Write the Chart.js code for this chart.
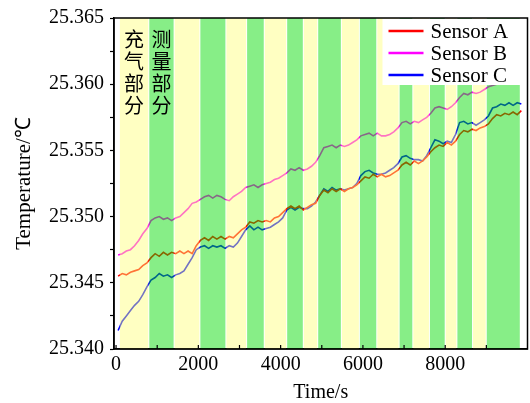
<!DOCTYPE html>
<html>
<head>
<meta charset="utf-8">
<script src="https://cdn.jsdelivr.net/npm/chart.js@4/dist/chart.umd.min.js"></script>
<style>
  html, body { margin: 0; padding: 0; background: #fff; }
  #wrap { width: 530px; height: 403px; }
</style>
</head>
<body>
<div id="wrap"><canvas id="myChart"></canvas></div>
<script>
// time (s)
const times = [50,150,250,350,450,550,650,750,850,950,
  1050,1150,1250,1350,1450,1550,1650,1750,1850,1950,
  2050,2150,2250,2350,2450,2550,2650,2750,2850,2950,
  3050,3150,3250,3350,3450,3550,3650,3750,3850,3950,
  4050,4150,4250,4350,4450,4550,4650,4750,4850,4950,
  5050,5150,5250,5350,5450,5550,5650,5750,5850,5950,
  6050,6150,6250,6350,6450,6550,6650,6750,6850,6950,
  7050,7150,7250,7350,7450,7550,7650,7750,7850,7950,
  8050,8150,8250,8350,8450,8550,8650,8750,8850,8950,
  9050,9150,9250,9350,9450,9550,9650,9750,9850];

const sensorA = [25.3455,25.3457,25.3456,25.3458,25.3459,25.3460,25.3463,25.3465,25.3469,25.3472,
  25.3470,25.3473,25.3471,25.3473,25.3472,25.3474,25.3472,25.3474,25.3472,25.3478,
  25.3482,25.3484,25.3482,25.3485,25.3483,25.3485,25.3483,25.3485,25.3484,25.3487,
  25.3490,25.3492,25.3496,25.3495,25.3497,25.3496,25.3497,25.3496,25.3499,25.3500,
  25.3503,25.3506,25.3508,25.3506,25.3508,25.3505,25.3507,25.3509,25.3510,25.3516,
  25.3520,25.3518,25.3521,25.3519,25.3521,25.3519,25.3521,25.3522,25.3524,25.3527,
  25.3530,25.3529,25.3532,25.3530,25.3532,25.3530,25.3531,25.3533,25.3535,25.3539,
  25.3541,25.3539,25.3542,25.3540,25.3542,25.3545,25.3549,25.3552,25.3554,25.3553,
  25.3556,25.3554,25.3557,25.3562,25.3565,25.3564,25.3566,25.3565,25.3567,25.3568,
  25.3570,25.3574,25.3577,25.3576,25.3578,25.3577,25.3579,25.3577,25.3580];

const sensorB = [25.3471,25.3472,25.3474,25.3475,25.3478,25.3482,25.3487,25.3491,25.3497,25.3499,
  25.3500,25.3498,25.3499,25.3497,25.3499,25.3500,25.3503,25.3506,25.3510,25.3511,
  25.3513,25.3515,25.3516,25.3514,25.3516,25.3515,25.3513,25.3512,25.3515,25.3517,
  25.3519,25.3522,25.3523,25.3524,25.3522,25.3524,25.3525,25.3526,25.3528,25.3529,
  25.3531,25.3533,25.3536,25.3535,25.3537,25.3535,25.3536,25.3538,25.3541,25.3546,
  25.3552,25.3553,25.3554,25.3552,25.3554,25.3553,25.3554,25.3556,25.3558,25.3561,
  25.3562,25.3563,25.3561,25.3563,25.3561,25.3561,25.3562,25.3564,25.3567,25.3571,
  25.3572,25.3570,25.3572,25.3571,25.3573,25.3575,25.3578,25.3582,25.3583,25.3582,
  25.3581,25.3583,25.3586,25.3590,25.3593,25.3592,25.3594,25.3593,25.3594,25.3596,
  25.3598,25.3599,25.3600,25.3601,25.3600,25.3602,25.3601,25.3603,25.3602];

const sensorC = [25.3414,25.3421,25.3425,25.3429,25.3433,25.3436,25.3441,25.3447,25.3452,25.3454,
  25.3457,25.3455,25.3456,25.3454,25.3456,25.3457,25.3459,25.3464,25.3469,25.3475,
  25.3477,25.3478,25.3476,25.3478,25.3477,25.3478,25.3476,25.3478,25.3477,25.3480,
  25.3485,25.3490,25.3493,25.3490,25.3492,25.3490,25.3491,25.3492,25.3494,25.3496,
  25.3499,25.3505,25.3507,25.3505,25.3507,25.3506,25.3506,25.3508,25.3511,25.3516,
  25.3521,25.3519,25.3522,25.3520,25.3521,25.3520,25.3521,25.3522,25.3525,25.3531,
  25.3534,25.3535,25.3533,25.3532,25.3532,25.3533,25.3535,25.3537,25.3540,25.3545,
  25.3546,25.3544,25.3543,25.3543,25.3542,25.3546,25.3552,25.3558,25.3557,25.3555,
  25.3557,25.3556,25.3562,25.3571,25.3572,25.3570,25.3571,25.3569,25.3571,25.3573,
  25.3576,25.3582,25.3583,25.3585,25.3584,25.3586,25.3584,25.3586,25.3585];

// alternating charge (yellow) / measure (green) phases, edges in s
const phaseEdges = [80,796,1411,2037,2670,3173,3602,4147,4551,4901,5476,
  5914,6337,6880,7213,7617,8000,8284,8664,8997,9825];
const phaseLabels = ['充气部分', '测量部分'];

const xTicks = [0,1000,2000,3000,4000,5000,6000,7000,8000,9000];
const yTicks = [25.340,25.3425,25.345,25.3475,25.350,25.3525,25.355,25.3575,25.360,25.3625,25.365];

Chart.defaults.font.family = "'Liberation Serif', serif";
Chart.defaults.font.size = 20;
Chart.defaults.color = '#000';

const serif = "'Liberation Serif', serif";

const phasePlugin = {
    id: 'phases',
    afterDatasetsDraw(chart) {
        const ctx = chart.ctx, a = chart.chartArea, x = chart.scales.x;
        ctx.save();
        for (let i = 0; i < phaseEdges.length - 1; i++) {
            const x0 = x.getPixelForValue(phaseEdges[i]);
            const x1 = x.getPixelForValue(phaseEdges[i + 1]);
            ctx.fillStyle = i % 2 === 0 ? 'rgba(255,255,120,0.45)' : 'rgba(0,219,0,0.47)';
            ctx.fillRect(x0 + 0.5, a.top, x1 - x0 - 1, a.bottom - a.top);
        }
        ctx.restore();
    },
    afterDraw(chart) {
        const ctx = chart.ctx, a = chart.chartArea, x = chart.scales.x;
        ctx.save();

        // vertical phase captions in the first two bands
        ctx.font = '20px "Noto Sans CJK SC"';
        ctx.fillStyle = '#000';
        ctx.textAlign = 'center';
        ctx.textBaseline = 'middle';
        phaseLabels.forEach((txt, i) => {
            const cx = x.getPixelForValue((phaseEdges[i] + phaseEdges[i + 1]) / 2);
            Array.from(txt).forEach((ch, j) => ctx.fillText(ch, cx, a.top + 21 + j * 22));
        });

        // legend box in the upper right corner
        const lx = a.right - 145;
        ctx.fillStyle = '#fff';
        ctx.fillRect(lx, a.top + 1, a.right - lx - 1, 66);
        ctx.textAlign = 'left';
        ctx.font = '21px ' + serif;
        chart.data.datasets.forEach((ds, i) => {
            const ly = a.top + 13 + i * 22;
            ctx.strokeStyle = ds.borderColor;
            ctx.lineWidth = 2.5;
            ctx.beginPath();
            ctx.moveTo(lx + 6, ly);
            ctx.lineTo(lx + 41, ly);
            ctx.stroke();
            ctx.fillStyle = '#000';
            ctx.fillText(ds.label, lx + 48, ly + 1);
        });

        // inward ticks on the time axis
        ctx.strokeStyle = '#000';
        ctx.lineWidth = 1.2;
        xTicks.forEach(v => {
            const px = x.getPixelForValue(v);
            ctx.beginPath();
            ctx.moveTo(px, a.bottom);
            ctx.lineTo(px, a.bottom - 4);
            ctx.stroke();
        });

        // frame
        ctx.lineWidth = 1.5;
        ctx.strokeRect(a.left, a.top, a.right - a.left, a.bottom - a.top);
        ctx.restore();
    }
};

function series(label, values, color) {
    return {
        label: label,
        data: times.map((t, i) => ({ x: t, y: values[i] })),
        borderColor: color,
        borderWidth: 1.6,
        pointRadius: 0,
        fill: false,
        tension: 0
    };
}

const ctx = document.getElementById('myChart').getContext('2d');
const chart = new Chart(ctx, {
    type: 'line',
    data: {
        datasets: [
            series('Sensor A', sensorA, 'rgb(255,0,0)'),
            series('Sensor B', sensorB, 'rgb(255,0,255)'),
            series('Sensor C', sensorC, 'rgb(0,0,255)')
        ]
    },
    options: {
        responsive: true,
        maintainAspectRatio: false,
        animation: false,
        layout: { padding: { top: 16, right: 2.5, left: 0, bottom: 0 } },
        plugins: {
            legend: { display: false },
            tooltip: { enabled: false }
        },
        scales: {
            x: {
                type: 'linear',
                min: -50,
                max: 10000,
                afterBuildTicks: s => { s.ticks = xTicks.map(v => ({ value: v })); },
                afterFit: s => { s.height = 54; },
                ticks: {
                    autoSkip: false,
                    maxRotation: 0,
                    padding: 4,
                    callback: v => (v % 2000 === 0 ? String(v) : '')
                },
                grid: { drawOnChartArea: false, drawTicks: false },
                border: { color: '#000', width: 1.5 },
                title: { display: true, text: 'Time/s', padding: { top: 0, bottom: 0 }, font: { lineHeight: 1.0 } }
            },
            y: {
                min: 25.340,
                max: 25.365,
                afterBuildTicks: s => { s.ticks = yTicks.map(v => ({ value: v })); },
                afterFit: s => { s.width = 114; },
                ticks: {
                    autoSkip: false,
                    padding: 6,
                    callback: v => (Math.round(v * 10000) % 50 === 0 ? v.toFixed(3) : '')
                },
                grid: { drawOnChartArea: false, drawTicks: true, tickLength: 4, tickColor: '#000', tickWidth: 1.2 },
                border: { color: '#000', width: 1.5 },
                title: { display: true, text: 'Temperature/℃', padding: { top: 12, bottom: 0 }, font: { size: 21 } }
            }
        }
    },
    plugins: [phasePlugin]
});
</script>
</body>
</html>
